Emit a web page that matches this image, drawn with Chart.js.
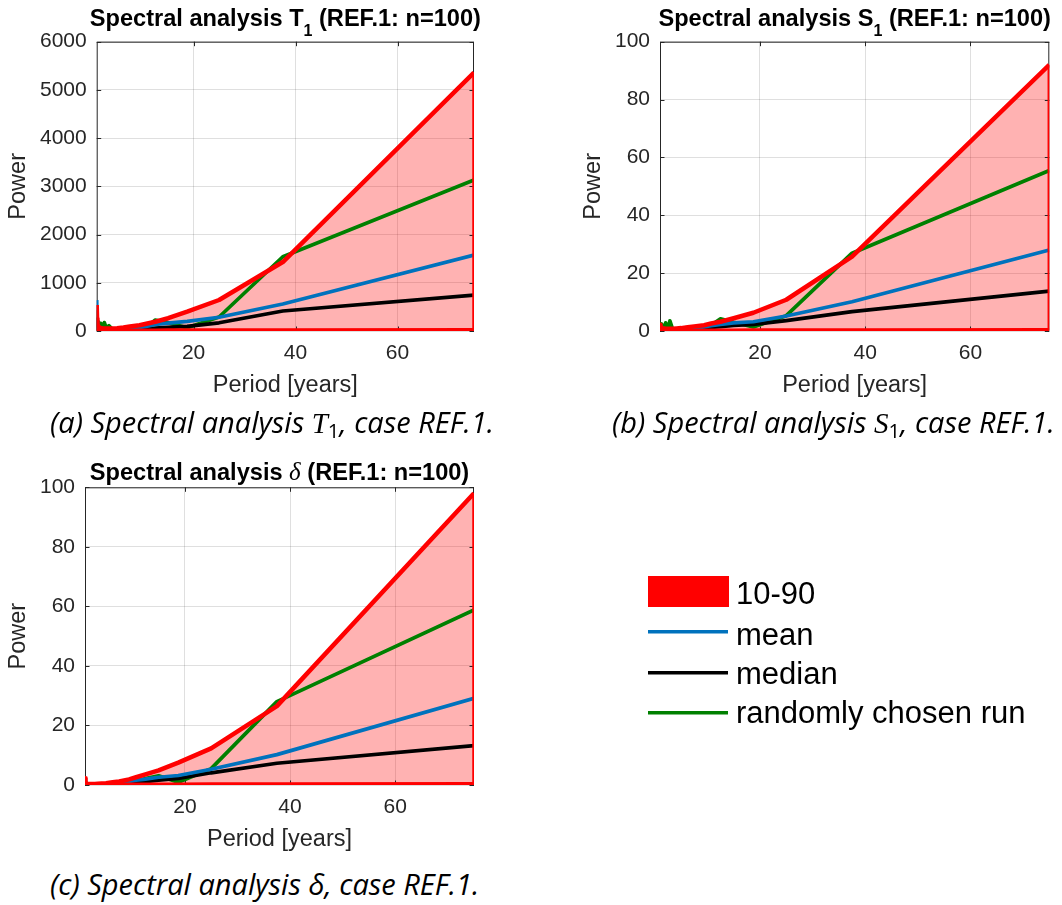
<!DOCTYPE html>
<html>
<head>
<meta charset="utf-8">
<script src="https://cdn.jsdelivr.net/npm/chart.js@4.4.1/dist/chart.umd.min.js"></script>
<style>
    body { margin: 0; background: #fff; width: 1062px; height: 905px; position: relative; overflow: hidden; }
    canvas { position: absolute; }
    .caption { position: absolute; font-family: "Open Sans", Lato, sans-serif; font-style: italic; font-size: 29px; color: #000; white-space: nowrap; line-height: 1; }
    .caption sub { font-size: 0.7em; vertical-align: -0.25em; line-height: 0; font-style: normal; }
    .caption .m { font-family: "Liberation Serif", serif; font-style: italic; }
</style>
</head>
<body>
<canvas id="chart_t1" width="531" height="405" style="left:0; top:0"></canvas>
<canvas id="chart_s1" width="531" height="405" style="left:531px; top:0"></canvas>
<canvas id="chart_dl" width="1062" height="420" style="left:0; top:440px"></canvas>
<div class="caption" style="left:50px; top:407px">(a) Spectral analysis <span class="m">T</span><sub>1</sub>, case REF.1.</div>
<div class="caption" style="left:612px; top:407px">(b) Spectral analysis <span class="m">S</span><sub>1</sub>, case REF.1.</div>
<div class="caption" style="left:50px; top:869px">(c) Spectral analysis δ, case REF.1.</div>
<script>
/* spectral analysis panels, REF.1 case */

const periods = [1, 1.07, 1.15, 1.32, 1.5, 1.79, 2.08, 2.5, 2.88, 3.41, 4.17, 5, 6.25, 7.5, 9.38, 10.71, 12.5, 15, 18.75, 25, 37.5, 75];
const series_names = ['10-90', 'mean', 'median', 'randomly chosen run'];
const x_ticks = [20, 40, 60];
const y_ticks_t1 = [0, 1000, 2000, 3000, 4000, 5000, 6000];
const y_ticks_small = [0, 20, 40, 60, 80, 100];

// T1
const t1_p90    = [540, 260, 140, 95, 75, 65, 58, 52, 50, 50, 52, 58, 72, 92, 120, 150, 192, 265, 400, 643, 1430, 5360];
const t1_p10    = [8, 5, 4, 3, 3, 3, 3, 3, 3, 3, 3, 4, 4, 5, 6, 6, 7, 8, 9, 10, 12, 15];
const t1_mean   = [640, 220, 90, 45, 32, 26, 23, 21, 21, 22, 25, 30, 40, 52, 72, 95, 135, 165, 200, 285, 560, 1575];
const t1_median = [280, 70, 25, 12, 9, 8, 7, 6, 6, 7, 8, 10, 14, 20, 30, 42, 60, 75, 95, 170, 415, 745];
const t1_random = [430, 120, 60, 190, 40, 160, 35, 175, 60, 110, 25, 15, 20, 30, 40, 75, 228, 172, 65, 290, 1540, 3130];

// S1
const s1_p90    = [2.2, 1.6, 1.3, 1.1, 1.0, 0.9, 0.8, 0.8, 0.8, 0.8, 0.9, 1.0, 1.3, 1.6, 2.0, 2.6, 3.2, 4.4, 6.3, 10.8, 25.7, 92.0];
const s1_p10    = [0.05, 0.04, 0.03, 0.03, 0.03, 0.03, 0.03, 0.03, 0.03, 0.04, 0.04, 0.05, 0.06, 0.07, 0.08, 0.09, 0.1, 0.12, 0.14, 0.16, 0.2, 0.3];
const s1_mean   = [1.6, 1.0, 0.7, 0.6, 0.5, 0.5, 0.4, 0.4, 0.4, 0.5, 0.5, 0.6, 0.8, 1.0, 1.4, 1.8, 2.3, 2.8, 3.2, 5.2, 10.1, 28.0];
const s1_median = [0.8, 0.5, 0.4, 0.3, 0.3, 0.3, 0.2, 0.2, 0.3, 0.3, 0.3, 0.4, 0.5, 0.6, 0.9, 1.2, 1.5, 1.9, 2.3, 3.6, 6.7, 13.8];
const s1_random = [2.6, 0.8, 0.4, 2.4, 0.6, 0.5, 2.8, 0.4, 3.5, 0.6, 0.5, 0.4, 0.6, 0.8, 1.0, 2.0, 4.2, 3.0, 1.4, 5.3, 26.9, 55.5];

// delta
const dl_p90    = [2.3, 0.9, 0.6, 0.4, 0.35, 0.3, 0.3, 0.3, 0.35, 0.4, 0.5, 0.6, 0.9, 1.2, 1.9, 2.6, 3.6, 4.9, 7.5, 12.3, 26.5, 98.0];
const dl_p10    = [0.03, 0.02, 0.02, 0.02, 0.02, 0.02, 0.02, 0.02, 0.02, 0.02, 0.03, 0.03, 0.04, 0.05, 0.06, 0.07, 0.08, 0.1, 0.12, 0.14, 0.18, 0.25];
const dl_mean   = [1.0, 0.4, 0.3, 0.2, 0.2, 0.2, 0.2, 0.2, 0.2, 0.3, 0.3, 0.4, 0.6, 0.8, 1.2, 1.6, 2.0, 2.6, 3.2, 5.3, 10.2, 29.1];
const dl_median = [0.5, 0.2, 0.15, 0.1, 0.1, 0.1, 0.1, 0.1, 0.1, 0.15, 0.2, 0.3, 0.4, 0.5, 0.7, 0.9, 1.1, 1.6, 2.2, 4.1, 7.3, 13.2];
const dl_random = [1.2, 0.3, 0.2, 0.3, 0.2, 0.2, 0.1, 0.2, 0.2, 0.3, 0.4, 0.3, 0.5, 0.6, 0.8, 1.0, 2.2, 3.1, 0.9, 5.5, 28.0, 58.8];

const FONT = '"Liberation Sans", Arial, Helvetica, sans-serif';
const AXIS_GREY = '#262626';
const colours = { band: '#ff0000', fill: 'rgba(255,0,0,0.3)', mean: '#0072bd', median: '#000000', random: '#008000' };

function points ( values )
{
    return values.map((v, ii) => ({ x: periods[ii], y: v }));
}

function edge ( lo, hi, ii )
{
    return [ { x: periods[ii], y: lo[ii] }, { x: periods[ii], y: hi[ii] } ];
}

function title_plugin ( parts, offset )
{
    return {
        id: 'panel_title',
        afterDraw: function (chart)
        {
            const ctx = chart.ctx;
            const area = chart.chartArea;
            ctx.save();
            ctx.fillStyle = '#000';
            ctx.textAlign = 'left';
            ctx.textBaseline = 'alphabetic';
            let total = 0;
            for ( const p of parts ) { ctx.font = p.font; total += ctx.measureText(p.text).width; }
            let x = (area.left + area.right) / 2 - total / 2;
            for ( const p of parts )
            {
                ctx.font = p.font;
                ctx.fillText(p.text, x, area.top - offset + (p.dy || 0));
                x += ctx.measureText(p.text).width;
            }
            ctx.restore();
        }
    };
}

/* matlab style box with inward tick marks */
const axes_box =
{
    id: 'axes_box',
    beforeDatasetsDraw: function (chart)
    {
        const { ctx, chartArea: a, scales } = chart;
        ctx.save();
        ctx.strokeStyle = AXIS_GREY;
        ctx.lineWidth = 1;
        ctx.strokeRect(a.left + 0.5, a.top + 0.5, a.right - a.left - 1, a.bottom - a.top - 1);
        ctx.beginPath();
        for ( const t of scales.x.ticks )
        {
            const px = Math.round(scales.x.getPixelForValue(t.value)) + 0.5;
            ctx.moveTo(px, a.bottom); ctx.lineTo(px, a.bottom - 4.5);
            ctx.moveTo(px, a.top); ctx.lineTo(px, a.top + 4.5);
        }
        for ( const t of scales.y.ticks )
        {
            const py = Math.round(scales.y.getPixelForValue(t.value)) + 0.5;
            ctx.moveTo(a.left, py); ctx.lineTo(a.left + 4.5, py);
            ctx.moveTo(a.right, py); ctx.lineTo(a.right - 4.5, py);
        }
        ctx.stroke();
        ctx.restore();
    }
};

/* legend at the free lower right slot */
const side_legend =
{
    id: 'side_legend',
    afterDraw: function (chart)
    {
        const ctx = chart.ctx;
        ctx.save();
        ctx.font = '31px ' + FONT;
        ctx.textAlign = 'left';
        ctx.textBaseline = 'alphabetic';

        ctx.fillStyle = colours.band;
        ctx.fillRect(648, 136, 81, 31);
        ctx.fillStyle = '#000';
        ctx.fillText(series_names[0], 736, 164);

        const line_cols = [colours.mean, colours.median, colours.random];
        const line_y = [191.7, 232.7, 272.7];
        const text_y = [205, 244, 283];
        for ( let ii = 0; ii < 3; ++ii )
        {
            ctx.strokeStyle = line_cols[ii];
            ctx.lineWidth = 3.5;
            ctx.beginPath();
            ctx.moveTo(648, line_y[ii]);
            ctx.lineTo(728, line_y[ii]);
            ctx.stroke();
            ctx.fillText(series_names[ii + 1], 736, text_y[ii]);
        }
        ctx.restore();
    }
};

function make_panel ( canvas_id, d, y_ticks, frame, title_parts, title_offset, extra_plugins )
{
    const n = periods.length;
    const datasets =
    [
        { label: series_names[0], data: points(d.p90), borderColor: colours.band, borderWidth: 4.5,
          backgroundColor: colours.fill, fill: 1, order: 0 },
        { label: 'p10', data: points(d.p10), borderColor: colours.band, borderWidth: 4.5, fill: false, order: 0 },
        { label: 'edge_l', data: edge(d.p10, d.p90, 0), borderColor: colours.band, borderWidth: 3.5, fill: false, order: 0 },
        { label: 'edge_r', data: edge(d.p10, d.p90, n - 1), borderColor: colours.band, borderWidth: 3.5, fill: false, order: 0 },
        { label: series_names[1], data: points(d.mean), borderColor: colours.mean, borderWidth: 3.7, fill: false, order: 1 },
        { label: series_names[2], data: points(d.median), borderColor: colours.median, borderWidth: 3.7, fill: false, order: 1 },
        { label: series_names[3], data: points(d.random), borderColor: colours.random, borderWidth: 3.7, fill: false, order: 1 }
    ];

    const options =
    {
        responsive: false,
        animation: false,
        devicePixelRatio: 1,
        layout: { padding: { left: frame.left, right: frame.right, top: frame.top, bottom: frame.bottom } },
        elements: { point: { radius: 0 }, line: { tension: 0, borderJoinStyle: 'round' } },
        plugins:
        {
            legend: { display: false },
            title: { display: false },
            tooltip: { enabled: false },
            filler: { drawTime: 'beforeDatasetsDraw' }
        },
        scales:
        {
            x:
            {
                type: 'linear', min: 1, max: 75,
                afterBuildTicks: function (s) { s.ticks = x_ticks.map(v => ({ value: v })); },
                afterFit: function (s) { s.height = 69; },
                grid: { color: 'rgba(38,38,38,0.15)', drawTicks: false },
                border: { display: false },
                ticks: { color: AXIS_GREY, font: { family: FONT, size: 21 }, padding: 10, maxRotation: 0,
                         callback: function (v) { return String(v); } },
                title: { display: true, text: 'Period [years]', color: AXIS_GREY, font: { family: FONT, size: 23.5 }, padding: 0 }
            },
            y:
            {
                type: 'linear', min: y_ticks[0], max: y_ticks[y_ticks.length - 1],
                afterBuildTicks: function (s) { s.ticks = y_ticks.map(v => ({ value: v })); },
                afterFit: function (s) { s.width = frame.y_width; },
                grid: { color: 'rgba(38,38,38,0.15)', drawTicks: false },
                border: { display: false },
                ticks: { color: AXIS_GREY, font: { family: FONT, size: 21 }, padding: 10,
                         callback: function (v) { return String(v); } },
                title: { display: true, text: 'Power', color: AXIS_GREY, font: { family: FONT, size: 23.5 }, padding: 0 }
            }
        }
    };

    const plugins = [ axes_box, title_plugin(title_parts, title_offset) ].concat(extra_plugins || []);
    return new Chart(document.getElementById(canvas_id), { type: 'line', data: { datasets: datasets }, options: options, plugins: plugins });
}

const bold = 'bold 23.6px ' + FONT;
const bold_sub = 'bold 16px ' + FONT;

make_panel('chart_t1',
    { p90: t1_p90, p10: t1_p10, mean: t1_mean, median: t1_median, random: t1_random },
    y_ticks_t1,
    { left: 4.7, y_width: 92, right: 57, top: 41.7, bottom: 5 },
    [ { text: 'Spectral analysis T', font: bold }, { text: '1', font: bold_sub, dy: 10 }, { text: ' (REF.1: n=100)', font: bold } ],
    15.7);

make_panel('chart_s1',
    { p90: s1_p90, p10: s1_p10, mean: s1_mean, median: s1_median, random: s1_random },
    y_ticks_small,
    { left: 48.2, y_width: 80.8, right: 12.7, top: 41.7, bottom: 5 },
    [ { text: 'Spectral analysis S', font: bold }, { text: '1', font: bold_sub, dy: 10 }, { text: ' (REF.1: n=100)', font: bold } ],
    15.7);

make_panel('chart_dl',
    { p90: dl_p90, p10: dl_p10, mean: dl_mean, median: dl_median, random: dl_random },
    y_ticks_small,
    { left: 4.7, y_width: 80.3, right: 588, top: 47.3, bottom: 6 },
    [ { text: 'Spectral analysis ', font: bold }, { text: 'δ', font: 'italic 25px "Liberation Serif", serif' }, { text: ' (REF.1: n=100)', font: bold } ],
    7.5,
    [ side_legend ]);
</script>
</body>
</html>
